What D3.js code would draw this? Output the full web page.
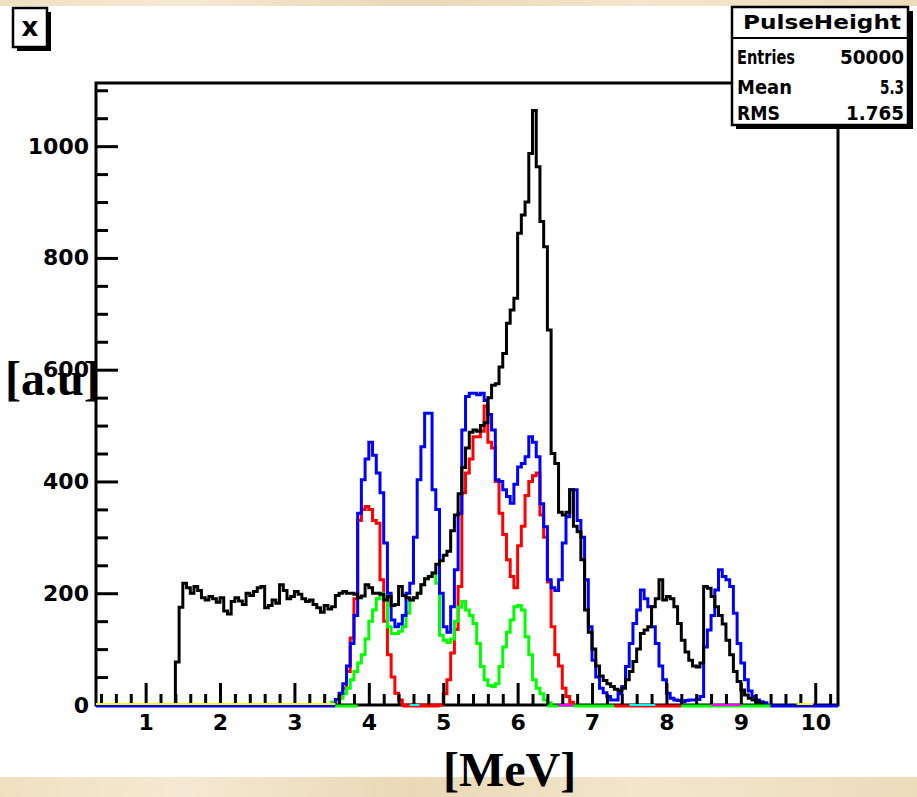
<!DOCTYPE html>
<html>
<head>
<meta charset="utf-8">
<script src="https://cdn.jsdelivr.net/npm/d3@7"></script>
<style>
  body { margin: 0; background: #fff; }
  svg { display: block; }
</style>
</head>
<body>
<svg id="chart"></svg>
<script>
const width = 917, height = 797;

// histogram bins are 0.05 MeV wide, each series starts at its own first bin
const binWidth = 0.05;

const blackStart = 1.40;
const blackCounts = [
  77, 175, 218, 210, 200, 212, 205, 192, 188, 194, 190, 184, 192, 168, 163, 185, 192, 186, 180, 200,
  196, 203, 210, 212, 174, 178, 188, 182, 215, 205, 190, 194, 203, 198, 190, 185, 188, 180, 174, 166,
  178, 172, 176, 196, 200, 203, 200, 200, 198, 192, 195, 215, 210, 200, 200, 198, 188, 194, 178, 180,
  212, 196, 192, 188, 192, 200, 215, 226, 230, 236, 252, 258, 268, 275, 312, 340, 378, 425, 460, 488,
  492, 490, 500, 505, 550, 572, 575, 605, 629, 683, 707, 728, 844, 877, 900, 987, 1064, 963, 865, 820,
  671, 450, 432, 345, 340, 345, 385, 320, 310, 260, 170, 130, 100, 70, 52, 44, 38, 33, 28, 25,
  30, 45, 60, 78, 100, 128, 134, 140, 176, 190, 224, 188, 194, 190, 176, 146, 116, 95, 80, 70,
  68, 75, 212, 209, 194, 176, 160, 145, 116, 90, 60, 42, 27, 18, 12, 9, 6, 3
];

const blueStart = 3.55;
const blueCounts = [
  10, 21, 38, 70, 110, 160, 343, 403, 440, 470, 447, 415, 380, 290, 200, 152, 140, 145, 160, 200,
  218, 300, 403, 462, 522, 522, 385, 350, 200, 140, 130, 176, 242, 343, 492, 552, 558, 558, 555, 558,
  545, 520, 492, 403, 400, 385, 373, 361, 395, 426, 432, 444, 480, 470, 444, 360, 319, 224, 210, 205,
  224, 290, 337, 385, 385, 330, 300, 224, 140, 80, 50, 30, 22, 15, 9, 9, 20, 33, 69, 110,
  146, 170, 206, 190, 176, 140, 110, 70, 45, 21, 12, 9, 8, 6, 8, 9, 9, 10, 15, 104,
  134, 160, 206, 242, 230, 224, 212, 164, 110, 75, 45, 25, 15, 9, 6, 4
];

const redStart = 3.60;
const redCounts = [
  15, 30, 60, 120, 190, 330, 350, 355, 350, 330, 325, 224, 150, 90, 50, 21, 9, 0, 0, 0,
  0, 0, 0, 0, 0, 0, 0, 0, 20, 45, 93, 135, 212, 380, 415, 440, 480, 480, 490, 535,
  470, 460, 400, 343, 305, 260, 230, 210, 285, 320, 375, 400, 410, 415, 340, 300, 220, 140, 90, 70,
  30, 15, 5
];

const greenStart = 3.50;
const greenCounts = [
  5, 8, 12, 20, 30, 45, 60, 75, 90, 118, 150, 170, 190, 200, 194, 140, 128, 128, 132, 140,
  164, 188, 192, 200, 215, 226, 230, 236, 218, 125, 116, 112, 118, 150, 175, 185, 170, 160, 146, 110,
  69, 45, 35, 33, 38, 69, 104, 130, 152, 176, 178, 170, 122, 90, 45, 30, 20, 9, 4
];

// coloured pieces of empty histograms visible along the x axis [colour, from MeV, to MeV]
const baselineSegments = [
  ["blue", 0.333, 3.55], ["yellow", 0.333, 3.55], ["green", 3.55, 3.85],
  ["red", 4.45, 4.95], ["cyan", 4.55, 4.68], ["green", 6.40, 6.55],
  ["magenta", 6.55, 6.75], ["green", 6.75, 7.30], ["red", 7.30, 8.20],
  ["cyan", 7.50, 7.85], ["green", 8.20, 9.40], ["magenta", 8.60, 9.00],
  ["blue", 9.40, 10.306], ["yellow", 9.75, 9.97]
];

const xMajorTicks = [1, 2, 3, 4, 5, 6, 7, 8, 9, 10];
const yMajorTicks = [0, 200, 400, 600, 800, 1000];
const statsTitle = "PulseHeight";
const statsRows = [["Entries", "50000"], ["Mean", "5.3"], ["RMS", "1.765"]];

const palette = {
  black: "#000000", red: "#ff0000", green: "#00ff00", blue: "#0000ff",
  yellow: "#ffff00", magenta: "#ff00ff", cyan: "#00ffff"
};
const lift = { yellow: -2, cyan: -1, magenta: -1 };

const svg = d3.select("#chart").attr("width", width).attr("height", height);

// parchment background top and bottom
const defs = svg.append("defs");
const grad = defs.append("linearGradient").attr("id", "parch").attr("x1", "0").attr("x2", "1");
[["0", "#efe0c0"], ["0.2", "#f4e9d2"], ["0.45", "#ead8b6"], ["0.7", "#f3e6cc"], ["1", "#ecdcbc"]]
  .forEach(s => grad.append("stop").attr("offset", s[0]).attr("stop-color", s[1]));
svg.append("rect").attr("width", width).attr("height", height).attr("fill", "url(#parch)");
svg.append("rect").attr("x", 0).attr("y", 6).attr("width", width).attr("height", 771).attr("fill", "#fff");

const x = d3.scaleLinear().domain([0.333, 10.306]).range([96, 838]);
const y = d3.scaleLinear().domain([0, 1113]).range([705, 83]);

// frame
const frame = svg.append("g").attr("stroke", "#000").attr("stroke-width", 3).attr("fill", "none");
frame.append("rect")
  .attr("x", x.range()[0]).attr("y", y.range()[1])
  .attr("width", x.range()[1] - x.range()[0]).attr("height", y.range()[0] - y.range()[1]);

// histograms
function stepPoints(start, counts) {
  const pts = [[start, 0]];
  counts.forEach((c, i) => pts.push([start + i * binWidth, c]));
  pts.push([start + counts.length * binWidth, 0]);
  return pts;
}
const line = d3.line().x(d => x(d[0])).y(d => y(d[1])).curve(d3.curveStepAfter);

const series = [
  { name: "red", start: redStart, counts: redCounts },
  { name: "green", start: greenStart, counts: greenCounts },
  { name: "blue", start: blueStart, counts: blueCounts },
  { name: "black", start: blackStart, counts: blackCounts }
];
series.forEach(s => {
  svg.append("path")
    .datum(stepPoints(s.start, s.counts))
    .attr("class", "hist " + s.name)
    .attr("fill", "none")
    .attr("stroke", palette[s.name])
    .attr("stroke-width", 3)
    .attr("stroke-linejoin", "miter")
    .attr("d", line);
});

// axes, ticks pointing inside
const xMinor = d3.range(0.4, 10.3, 0.2).filter(v => Math.abs(v - Math.round(v)) > 0.01);
const yMinor = d3.range(50, 1101, 50).filter(v => v % 200 !== 0);

function styleAxis(g) {
  g.select(".domain").remove();
  g.selectAll("line").attr("stroke", "#000").attr("stroke-width", 3);
  g.selectAll("text")
    .attr("fill", "#000")
    .style("font-family", "'DejaVu Sans', sans-serif")
    .style("font-weight", "bold")
    .style("font-size", "22px");
}

svg.append("g").attr("transform", `translate(0,${y(0)})`)
  .call(d3.axisBottom(x).tickValues(xMinor).tickSize(-11).tickFormat(""))
  .call(styleAxis);
svg.append("g").attr("transform", `translate(0,${y(0)})`)
  .call(d3.axisBottom(x).tickValues(xMajorTicks).tickSize(-22).tickPadding(9).tickFormat(d3.format("d")))
  .call(styleAxis);
svg.append("g").attr("transform", `translate(${x.range()[0]},0)`)
  .call(d3.axisLeft(y).tickValues(yMinor).tickSize(-12).tickFormat(""))
  .call(styleAxis);
svg.append("g").attr("transform", `translate(${x.range()[0]},0)`)
  .call(d3.axisLeft(y).tickValues(yMajorTicks).tickSize(-22).tickPadding(7).tickFormat(d3.format("d")))
  .call(styleAxis);

// empty histograms lying on the axis
svg.append("g").selectAll("line.base")
  .data(baselineSegments)
  .join("line")
  .attr("class", "base")
  .attr("x1", d => x(d[1])).attr("x2", d => x(d[2]))
  .attr("y1", d => y(0) + 1 + (lift[d[0]] || 0)).attr("y2", d => y(0) + 1 + (lift[d[0]] || 0))
  .attr("stroke", d => palette[d[0]])
  .attr("stroke-width", d => lift[d[0]] ? 2 : 3);

// stats box
const stats = svg.append("g");
stats.append("rect").attr("x", 736).attr("y", 11).attr("width", 177).attr("height", 118).attr("fill", "#000");
stats.append("rect").attr("x", 732).attr("y", 7).attr("width", 176).attr("height", 118)
  .attr("fill", "#fff").attr("stroke", "#000").attr("stroke-width", 2.5);
stats.append("line").attr("x1", 732).attr("x2", 908).attr("y1", 38).attr("y2", 38)
  .attr("stroke", "#000").attr("stroke-width", 2);
stats.append("text").attr("x", 822).attr("y", 29).attr("text-anchor", "middle")
  .attr("textLength", 158).attr("lengthAdjust", "spacingAndGlyphs")
  .style("font", "bold 20px 'DejaVu Sans', sans-serif").text(statsTitle);
const rowY = [64, 94, 120];
const labelLen = [58, 55, 43];
const valueLen = [64, 24, 58];
statsRows.forEach((r, i) => {
  stats.append("text").attr("x", 737).attr("y", rowY[i])
    .attr("textLength", labelLen[i]).attr("lengthAdjust", "spacingAndGlyphs")
    .style("font", "bold 19px 'DejaVu Sans', sans-serif").text(r[0]);
  stats.append("text").attr("x", 904).attr("y", rowY[i]).attr("text-anchor", "end")
    .attr("textLength", valueLen[i]).attr("lengthAdjust", "spacingAndGlyphs")
    .style("font", "bold 19px 'DejaVu Sans', sans-serif").text(r[1]);
});

// "x" title box
const tbox = svg.append("g");
tbox.append("rect").attr("x", 17).attr("y", 12).attr("width", 34).attr("height", 39).attr("fill", "#000");
tbox.append("rect").attr("x", 13).attr("y", 8).attr("width", 34).attr("height", 39)
  .attr("fill", "#fff").attr("stroke", "#000").attr("stroke-width", 2.5);
tbox.append("text").attr("x", 30).attr("y", 36).attr("text-anchor", "middle")
  .style("font", "bold 26px 'DejaVu Sans', sans-serif").text("x");

// axis titles
svg.append("text").attr("x", 5).attr("y", 395)
  .style("font", "bold 48px 'Liberation Serif', 'Times New Roman', serif").text("[a.u]");
svg.append("text").attr("x", 443).attr("y", 786)
  .style("font", "bold 48px 'Liberation Serif', 'Times New Roman', serif").text("[MeV]");
</script>
</body>
</html>
